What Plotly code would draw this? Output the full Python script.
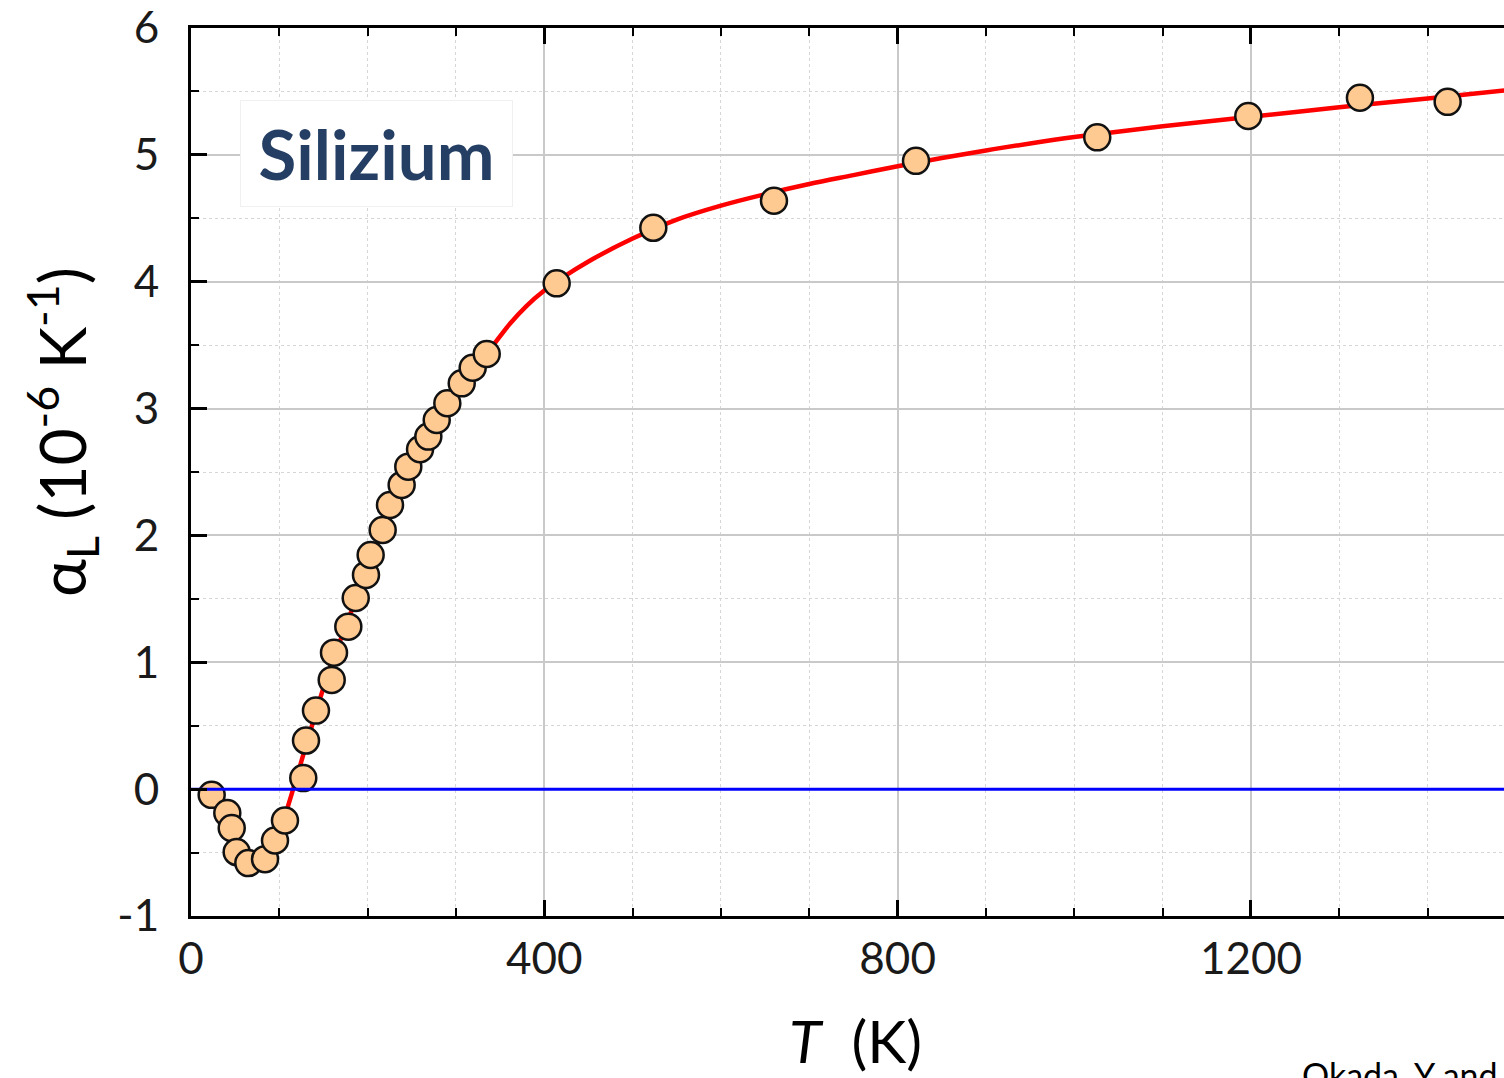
import plotly.graph_objects as go

# ---- measured data (T in K, alpha_L in 1e-6 / K) ----
T_meas = [23.4, 41.1, 46.1, 51.7, 64.9, 83.8, 95.1, 106.4, 127.1, 130.2, 141.5, 159.3,
          161.9, 178.1, 186.5, 198.1, 203.4, 217.0, 225.3, 238.5, 246.0, 259.3, 268.7,
          278.2, 290.2, 306.5, 318.9, 334.8, 414.0, 523.4, 660.0, 820.8, 1026.0, 1197.0,
          1323.4, 1422.7]
alpha_meas = [-0.045, -0.189, -0.307, -0.496, -0.583, -0.552, -0.405, -0.247, 0.087, 0.383,
              0.619, 0.861, 1.076, 1.281, 1.507, 1.689, 1.846, 2.043, 2.240, 2.398, 2.542,
              2.679, 2.779, 2.910, 3.042, 3.199, 3.322, 3.430, 3.987, 4.425, 4.638, 4.953,
              5.138, 5.306, 5.450, 5.418]

# ---- fitted curve ----
T_fit = [20, 30, 40, 50, 60, 70, 80, 90, 100, 110, 120, 130, 140, 150, 160, 175, 190, 205,
         220, 240, 260, 280, 300, 320, 340, 360, 380, 400, 420, 450, 500, 550, 600, 650,
         700, 750, 800, 850, 900, 950, 1000, 1100, 1200, 1300, 1400, 1490]
alpha_fit = [-0.02, -0.09, -0.19, -0.36, -0.51, -0.58, -0.56, -0.47, -0.35, -0.13, 0.10,
             0.34, 0.57, 0.80, 1.01, 1.28, 1.56, 1.83, 2.10, 2.42, 2.69, 2.92, 3.13, 3.31,
             3.48, 3.66, 3.81, 3.93, 4.03, 4.16, 4.34, 4.49, 4.60, 4.69, 4.77, 4.84, 4.91,
             4.975, 5.035, 5.09, 5.14, 5.225, 5.30, 5.375, 5.445, 5.51]

zero_T = [0, 1500]
zero_alpha = [0, 0]

x_ticks = [0, 400, 800, 1200]
y_ticks = [-1, 0, 1, 2, 3, 4, 5, 6]

FONT = "Lato"
W, H = 1504, 1078
L, R, TOP, B = 191, 0, 28, 162
PW, PH = W - L - R, H - TOP - B


def px_x(px):
    return (px - L) / PW


def px_y(py):
    return (H - B - py) / PH


fig = go.Figure()
fig.add_trace(go.Scatter(x=T_fit, y=alpha_fit, mode="lines",
                         line=dict(color="#ff0000", width=4.5, shape="spline", smoothing=1.0),
                         hoverinfo="skip", showlegend=False))
fig.add_trace(go.Scatter(x=T_meas, y=alpha_meas, mode="markers",
                         marker=dict(size=26, color="#ffc992",
                                     line=dict(color="#111111", width=2.5)),
                         showlegend=False))
fig.add_trace(go.Scatter(x=zero_T, y=zero_alpha, mode="lines",
                         line=dict(color="#0000ff", width=3),
                         hoverinfo="skip", showlegend=False))

fig.update_xaxes(range=[0, 1486.5], tickvals=x_ticks, ticktext=[str(v) for v in x_ticks],
                 ticks="inside", ticklen=16, tickwidth=2.5, tickcolor="black",
                 showline=True, linecolor="black", linewidth=3, mirror="ticks",
                 showgrid=True, gridcolor="#c9c9c9", gridwidth=1.5,
                 zeroline=False,
                 tickfont=dict(family=FONT, size=44, color="#1a1a1a"),
                 ticklabelstandoff=2,
                 minor=dict(dtick=100, tick0=0, ticks="inside", ticklen=8, tickwidth=2,
                            tickcolor="black", showgrid=True, gridcolor="#d6d6d6",
                            griddash="dot", gridwidth=1))
fig.update_yaxes(range=[-1, 6], tickvals=y_ticks, ticktext=[str(v) for v in y_ticks],
                 ticks="inside", ticklen=16, tickwidth=2.5, tickcolor="black",
                 showline=True, linecolor="black", linewidth=3,
                 showgrid=True, gridcolor="#c9c9c9", gridwidth=1.5,
                 zeroline=False,
                 tickfont=dict(family=FONT, size=44, color="#1a1a1a"),
                 ticklabelstandoff=20,
                 minor=dict(dtick=0.5, tick0=0, ticks="inside", ticklen=8, tickwidth=2,
                            tickcolor="black", showgrid=True, gridcolor="#d6d6d6",
                            griddash="dot", gridwidth=1))

annotations = [
    dict(text="<b>Silizium</b>", x=px_x(376.5), y=px_y(153.5), xref="paper", yref="paper",
         xanchor="center", yanchor="middle", showarrow=False,
         font=dict(family=FONT, size=69, color="#243f63"),
         bgcolor="white", bordercolor="#f0f0f0", borderwidth=1, borderpad=0,
         width=271, height=105),
    dict(text="<i>T</i>  (K)", x=px_x(855), y=px_y(1040), xref="paper", yref="paper",
         xanchor="center", yanchor="middle", showarrow=False,
         font=dict(family=FONT, size=59, color="black")),
    dict(text="α<sub>L</sub> (10<sup>-6</sup> K<sup>-1</sup>)", x=px_x(62), y=px_y(432),
         xref="paper", yref="paper", xanchor="center", yanchor="middle",
         showarrow=False, textangle=-90,
         font=dict(family=FONT, size=64, color="black")),
    dict(text="Okada, Y and Tokumaru, Y", x=px_x(1300), y=px_y(1052), xref="paper",
         yref="paper", xanchor="left", yanchor="top", showarrow=False,
         font=dict(family=FONT, size=34, color="black")),
]

fig.update_layout(width=W, height=H, margin=dict(l=L, r=R, t=TOP, b=B, pad=0),
                  paper_bgcolor="white", plot_bgcolor="white",
                  annotations=annotations, showlegend=False)

fig.write_html("out.html")
